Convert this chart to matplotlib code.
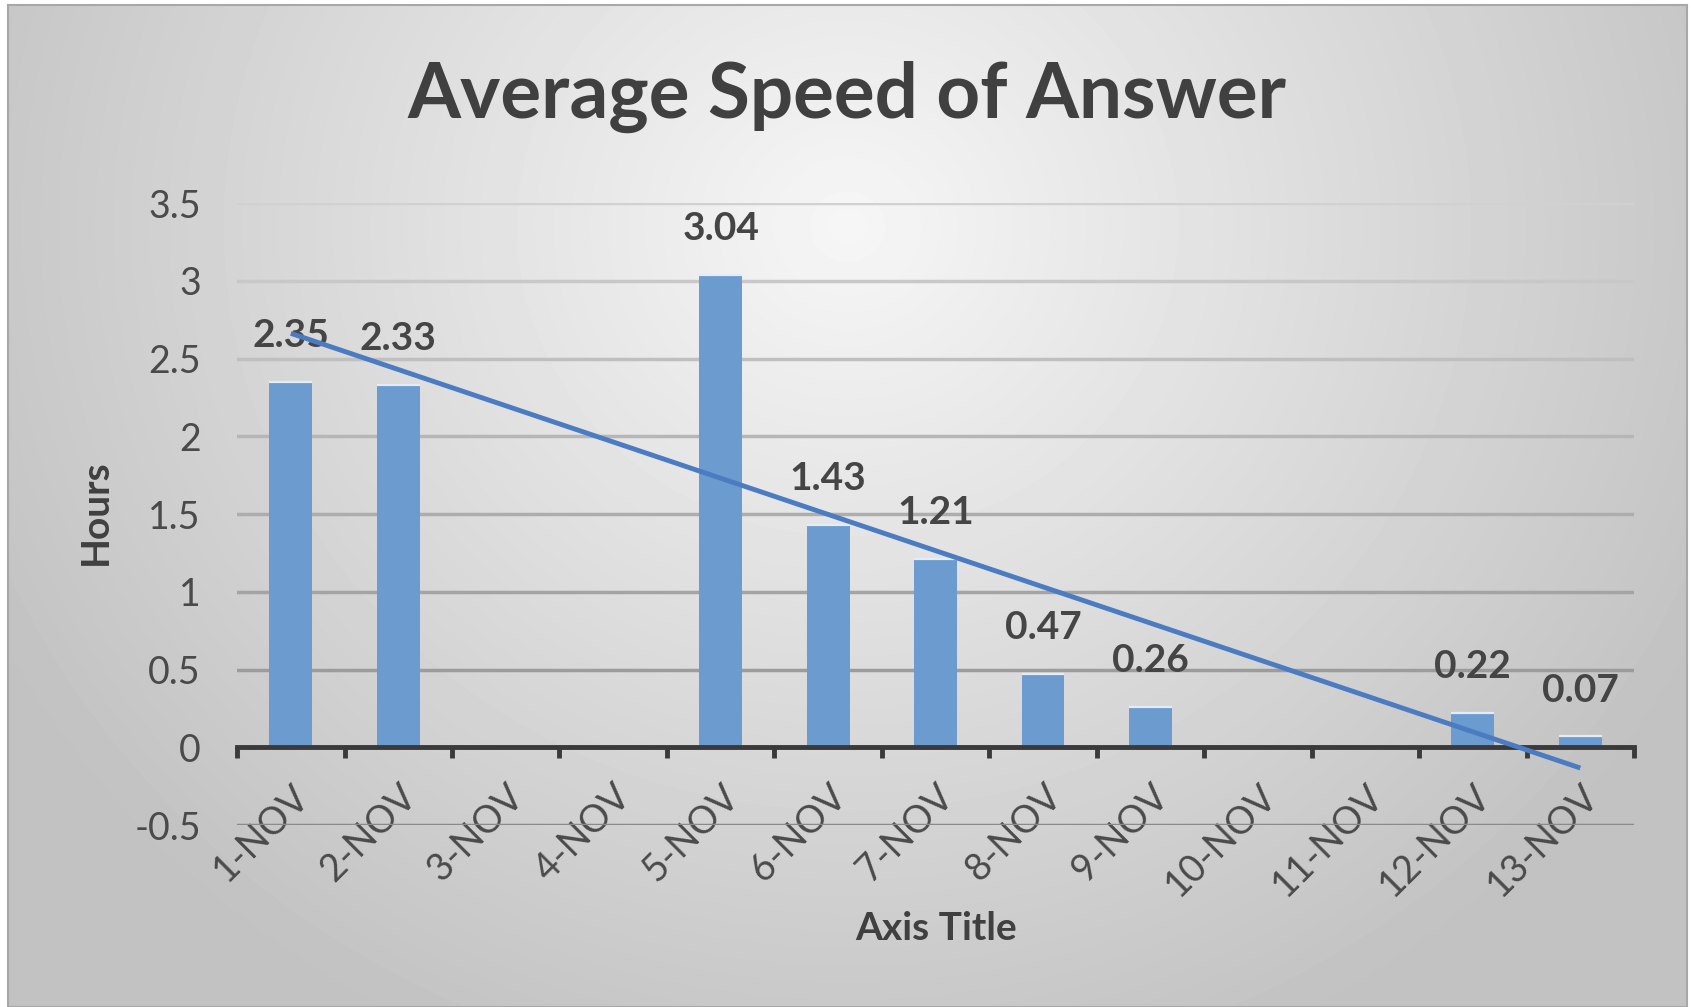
import numpy as np
import matplotlib
matplotlib.use('Agg')
import matplotlib.pyplot as plt
from matplotlib.ticker import FormatStrFormatter

days = ['1-NOV', '2-NOV', '3-NOV', '4-NOV', '5-NOV', '6-NOV', '7-NOV',
        '8-NOV', '9-NOV', '10-NOV', '11-NOV', '12-NOV', '13-NOV']
hours = [2.35, 2.33, np.nan, np.nan, 3.04, 1.43, 1.21, 0.47, 0.26,
         np.nan, np.nan, 0.22, 0.07]
y_ticks = [-0.5, 0, 0.5, 1, 1.5, 2, 2.5, 3, 3.5]

plt.rcParams['font.family'] = ['Lato', 'DejaVu Sans']
plt.rcParams['axes.unicode_minus'] = False

fig = plt.figure(figsize=(16.91, 10.07), dpi=100, facecolor='white')

# grey chart panel, bright in the upper middle and darker toward the edges
bg = fig.add_axes([0.0047, 0.0, 0.9929, 0.995], zorder=-10)
yy, xx = np.mgrid[0:1:300j, 0:1:500j]
r = np.sqrt(((xx - 0.5) / 0.7) ** 2 + ((yy - 0.22) / 1.1) ** 2)
shade = np.clip(0.965 - 0.25 * r, 0.76, 0.965)
bg.imshow(shade, cmap='gray', vmin=0, vmax=1, extent=[0, 1, 0, 1],
          origin='upper', aspect='auto', interpolation='bilinear')
bg.set_xlim(0, 1)
bg.set_ylim(0, 1)
bg.set_xticks([])
bg.set_yticks([])
for s in bg.spines.values():
    s.set_color('#a8a8a8')
    s.set_linewidth(1.5)

ax = fig.add_axes([0.1402, 0.1807, 0.8261, 0.6177])
ax.patch.set_alpha(0)
ax.set_axisbelow(True)

x = np.arange(len(days))
vals = np.array(hours, dtype=float)

ax.bar(x, vals, width=0.4, color='#6b9bcf', zorder=3)
# thin light rim along each bar top
has = ~np.isnan(vals)
ax.hlines(vals[has], x[has] - 0.2, x[has] + 0.2, color='#e4edf7', lw=1.6,
          zorder=3.5)

# linear trend through the days that have data
slope, icept = np.polyfit(x[has], vals[has], 1)
ends = x[[0, -1]]
ax.plot(ends, icept + slope * ends, color='#4b7cc2', lw=3.5, zorder=6,
        solid_capstyle='butt')

for xi, v in zip(x, vals):
    if np.isnan(v):
        continue
    ax.annotate(f'{v:.2f}', (xi, v), xytext=(0, 25), textcoords='offset points',
                ha='center', va='baseline', fontsize=28, fontweight='bold',
                color='#454545', zorder=5)

ax.set_xlim(-0.5, len(days) - 0.5)
ax.set_ylim(-0.5, 3.5)
ax.set_yticks(y_ticks)
ax.yaxis.set_major_formatter(FormatStrFormatter('%g'))
ax.grid(axis='y', linewidth=2.5)
# gridlines go from pale at the top to darker grey at the bottom
grid_lines = ax.get_ygridlines()
light = np.array([0.82, 0.82, 0.82])
dark = np.array([0.54, 0.54, 0.54])
for i, gl in enumerate(grid_lines):
    t = i / (len(grid_lines) - 1)
    gl.set_color(tuple(dark * (1 - t) + light * t))

for s in ['left', 'right', 'top']:
    ax.spines[s].set_visible(False)
ax.spines['bottom'].set_position(('data', 0))
ax.spines['bottom'].set_color('#3a3a3a')
ax.spines['bottom'].set_linewidth(3.5)
ax.spines['bottom'].set_zorder(4)

# tick marks sit between the days, labels sit under each day
ax.set_xticks(np.arange(len(days) + 1) - 0.5)
ax.set_xticklabels([])
ax.set_xticks(x, minor=True)
ax.set_xticklabels(days, minor=True, rotation=45, ha='right',
                   rotation_mode='anchor')
ax.tick_params(axis='x', which='major', length=8, width=3.5, color='#3a3a3a',
               direction='out')
ax.tick_params(axis='x', which='minor', length=0, pad=22, labelsize=27,
               labelcolor='#4a4a4a')
ax.tick_params(axis='y', length=0, pad=26, labelsize=27, labelcolor='#4a4a4a')

fig.text(847 / 1691, 1 - 97 / 1007, 'Average Speed of Answer', ha='center',
         va='center', fontsize=55, fontweight='bold', color='#404040')
fig.text(95 / 1691, 1 - 512 / 1007, 'Hours', rotation=90, ha='center',
         va='center', fontsize=28, fontweight='bold', color='#404040')
fig.text(936 / 1691, 1 - 928 / 1007, 'Axis Title', ha='center', va='center',
         fontsize=28, fontweight='bold', color='#404040')

fig.savefig('out.png', dpi=100, facecolor='white')
